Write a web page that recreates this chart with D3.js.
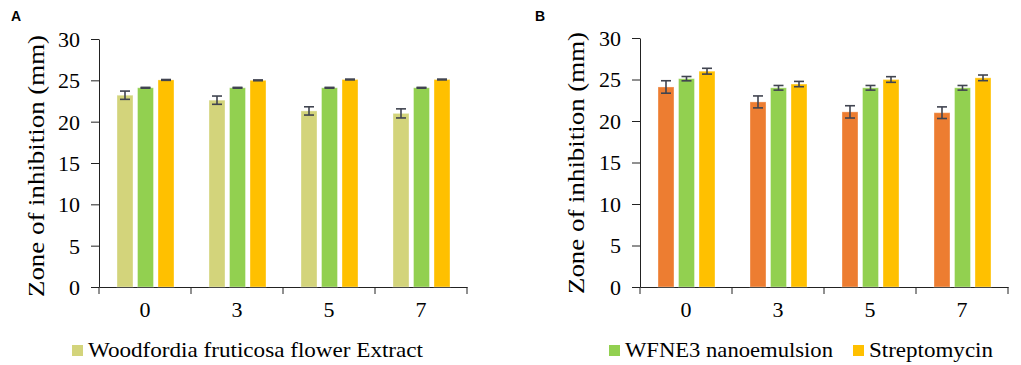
<!DOCTYPE html>
<html>
<head>
<meta charset="utf-8">
<script src="https://cdn.jsdelivr.net/npm/d3@7"></script>
<style>
  body { margin: 0; background: #fff; }
</style>
</head>
<body>
<div id="chart"></div>
<script>
// data
const days = ["0", "3", "5", "7"];
const yTicks = [0, 5, 10, 15, 20, 25, 30];

const extractA = [23.2, 22.6, 21.3, 21.0];
const extractAErr = [0.5, 0.5, 0.5, 0.55];
const nanoA = [24.1, 24.1, 24.1, 24.1];
const nanoAErr = [0.05, 0.05, 0.05, 0.05];
const streptoA = [25.05, 25.0, 25.1, 25.1];
const streptoAErr = [0.05, 0.05, 0.05, 0.05];

const extractB = [24.1, 22.3, 21.1, 21.0];
const extractBErr = [0.75, 0.72, 0.74, 0.7];
const nanoB = [25.1, 24.0, 24.0, 24.0];
const nanoBErr = [0.26, 0.28, 0.28, 0.28];
const streptoB = [26.0, 24.45, 25.0, 25.2];
const streptoBErr = [0.35, 0.32, 0.34, 0.34];

const colors = {
  extractA: "#d3d47b",
  extractB: "#ed7d31",
  nano: "#92d050",
  strepto: "#ffc000"
};

const serif = "'Liberation Serif', serif";

const width = 1021, height = 365;
const svg = d3.select("#chart").append("svg")
  .attr("width", width)
  .attr("height", height);

function draw_panel(opts) {
  const g = svg.append("g");

  const x = d3.scaleBand()
    .domain(days)
    .range([opts.left, opts.right]);

  const y = d3.scaleLinear()
    .domain([0, 30])
    .range([opts.bottom, opts.top]);

  const inner = d3.scaleBand()
    .domain(d3.range(opts.series.length))
    .range([18, 75])
    .paddingInner(0.22);

  // y axis
  const yAxis = g.append("g")
    .attr("transform", `translate(${opts.left},0)`)
    .call(d3.axisLeft(y).tickValues(yTicks).tickSize(8).tickPadding(11).tickSizeOuter(0));
  yAxis.attr("font-family", serif).attr("font-size", 22);
  yAxis.select(".domain").attr("stroke", "#222");
  yAxis.selectAll(".tick line").attr("stroke", "#222");
  yAxis.selectAll("text")
    .attr("fill", "#000")
    .attr("dy", "0.34em");

  // x axis, ticks at the category edges
  const xAxis = g.append("g")
    .attr("transform", `translate(0,${opts.bottom})`)
    .call(d3.axisBottom(x).tickSize(0).tickPadding(14));
  xAxis.attr("font-family", serif).attr("font-size", 22);
  xAxis.select(".domain").attr("stroke", "#222");
  xAxis.selectAll("text").attr("fill", "#000");
  xAxis.selectAll(".edge")
    .data(d3.range(days.length + 1))
    .enter()
    .append("line")
    .attr("x1", i => opts.left + i * x.step())
    .attr("x2", i => opts.left + i * x.step())
    .attr("y1", 0)
    .attr("y2", 7)
    .attr("stroke", "#222");

  // bars
  opts.series.forEach((s, si) => {
    g.selectAll(".bar-" + si)
      .data(s.values)
      .enter()
      .append("rect")
      .attr("x", (d, i) => x(days[i]) + inner(si))
      .attr("y", d => y(d))
      .attr("width", inner.bandwidth())
      .attr("height", d => y(0) - y(d))
      .attr("fill", s.color)
      .attr("stroke", "rgba(255,255,255,0.35)")
      .attr("stroke-width", 1);

    const cx = i => x(days[i]) + inner(si) + inner.bandwidth() / 2;
    const eb = g.selectAll(".err-" + si)
      .data(s.values)
      .enter()
      .append("g")
      .attr("stroke", "#404450")
      .attr("stroke-width", 1.6);
    eb.append("line")
      .attr("x1", (d, i) => cx(i)).attr("x2", (d, i) => cx(i))
      .attr("y1", (d, i) => y(d + s.err[i]))
      .attr("y2", (d, i) => y(d - s.err[i]));
    eb.append("line")
      .attr("x1", (d, i) => cx(i) - 5).attr("x2", (d, i) => cx(i) + 5)
      .attr("y1", (d, i) => y(d + s.err[i]))
      .attr("y2", (d, i) => y(d + s.err[i]));
    eb.append("line")
      .attr("x1", (d, i) => cx(i) - 5).attr("x2", (d, i) => cx(i) + 5)
      .attr("y1", (d, i) => y(d - s.err[i]))
      .attr("y2", (d, i) => y(d - s.err[i]));
  });

  // axis title
  g.append("text")
    .attr("transform", `translate(${opts.titleX},${opts.titleY}) rotate(-90)`)
    .attr("text-anchor", "middle")
    .attr("dy", "0.35em")
    .attr("textLength", 262)
    .attr("lengthAdjust", "spacingAndGlyphs")
    .attr("font-family", serif)
    .attr("font-size", 23)
    .text("Zone of inhibition (mm)");

  // panel letter
  g.append("text")
    .attr("x", opts.letterX)
    .attr("y", 21)
    .attr("font-family", "'Liberation Sans', Arial, sans-serif")
    .attr("font-weight", "bold")
    .attr("font-size", 14)
    .text(opts.letter);

  // legend
  opts.legend.forEach(l => {
    g.append("rect")
      .attr("x", l.x)
      .attr("y", 345)
      .attr("width", 11)
      .attr("height", 11)
      .attr("fill", l.color);
    g.append("text")
      .attr("x", l.x + 16)
      .attr("y", 357)
      .attr("textLength", l.len)
      .attr("lengthAdjust", "spacingAndGlyphs")
      .attr("font-family", serif)
      .attr("font-size", 22)
      .text(l.label);
  });
}

draw_panel({
  letter: "A", letterX: 11,
  left: 99, right: 467, top: 39, bottom: 287,
  titleX: 36, titleY: 166,
  series: [
    {values: extractA, err: extractAErr, color: colors.extractA},
    {values: nanoA, err: nanoAErr, color: colors.nano},
    {values: streptoA, err: streptoAErr, color: colors.strepto}
  ],
  legend: [
    {x: 72, color: colors.extractA, label: "Woodfordia fruticosa flower Extract", len: 335}
  ]
});

draw_panel({
  letter: "B", letterX: 535,
  left: 640, right: 1008, top: 38, bottom: 287,
  titleX: 576, titleY: 163,
  series: [
    {values: extractB, err: extractBErr, color: colors.extractB},
    {values: nanoB, err: nanoBErr, color: colors.nano},
    {values: streptoB, err: streptoBErr, color: colors.strepto}
  ],
  legend: [
    {x: 609, color: colors.nano, label: "WFNE3 nanoemulsion", len: 208},
    {x: 853, color: colors.strepto, label: "Streptomycin", len: 124}
  ]
});
</script>
</body>
</html>
